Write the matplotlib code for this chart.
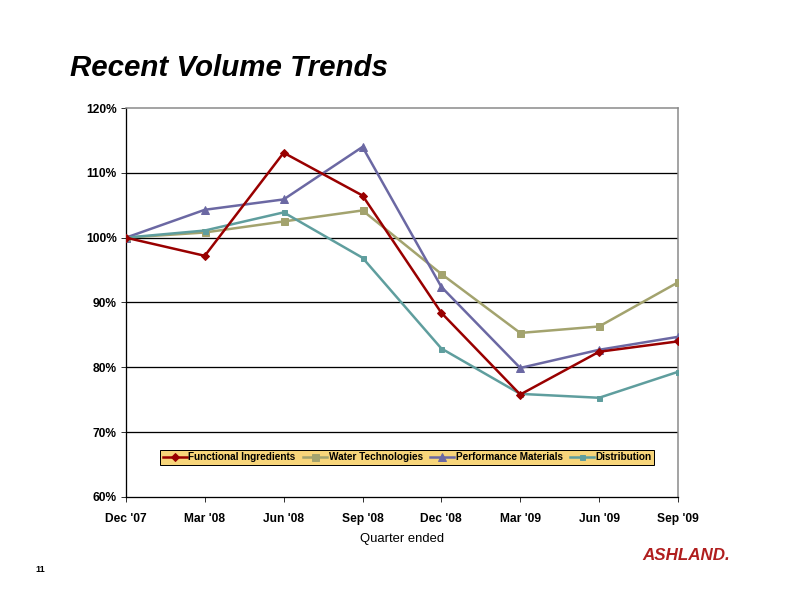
import matplotlib
matplotlib.use("Agg")
import matplotlib.pyplot as plt

plt.rcParams['font.family'] = ['Liberation Sans', 'DejaVu Sans']

quarters = ["Dec '07", "Mar '08", "Jun '08", "Sep '08", "Dec '08", "Mar '09", "Jun '09", "Sep '09"]
functional = [100.0, 97.2, 113.1, 106.5, 88.4, 75.8, 82.4, 84.0]
water = [100.0, 100.8, 102.5, 104.2, 94.4, 85.3, 86.3, 93.1]
performance = [100.0, 104.3, 105.9, 114.0, 92.4, 79.9, 82.7, 84.7]
distribution = [100.0, 101.1, 103.9, 96.9, 82.9, 75.9, 75.3, 79.3]

fig = plt.figure(figsize=(11, 8.5), dpi=72)
ax = fig.add_axes([0.159, 0.188, 0.697, 0.6355])

x = range(len(quarters))
ax.plot(x, functional, color='#990000', lw=2.5, marker='D', ms=6, label='Functional Ingredients', zorder=5)
ax.plot(x, water, color='#A3A36E', lw=2.5, marker='s', ms=7, label='Water Technologies', zorder=4)
ax.plot(x, performance, color='#6B68A3', lw=2.5, marker='^', ms=8, label='Performance Materials', zorder=4)
ax.plot(x, distribution, color='#5F9E9E', lw=2.5, marker='s', ms=5, label='Distribution', zorder=4)

ax.set_xlim(0, len(quarters) - 1)
ax.set_ylim(60, 120)
ax.set_yticks(range(60, 121, 10))
ax.set_yticklabels([f'{v}%' for v in range(60, 121, 10)], fontsize=12, fontweight='bold')
ax.set_xticks(list(x))
ax.set_xticklabels(quarters, fontsize=12, fontweight='bold')
ax.tick_params(axis='x', pad=11, length=5, direction='out')
ax.tick_params(axis='y', length=5, direction='out', pad=4)

for v in range(70, 120, 10):
    ax.axhline(v, color='black', lw=1.3, zorder=1)

ax.spines['left'].set_color('black')
ax.spines['bottom'].set_color('black')
ax.spines['left'].set_linewidth(1.3)
ax.spines['bottom'].set_linewidth(1.3)
ax.spines['top'].set_color('#888888')
ax.spines['right'].set_color('#888888')
ax.spines['top'].set_linewidth(1.5)
ax.spines['right'].set_linewidth(1.5)

leg = ax.legend(loc='upper center', bbox_to_anchor=(0.51, 0.121), ncol=4, frameon=True,
                fancybox=False, handlelength=2.4, handletextpad=0.15, columnspacing=0.75,
                borderpad=0.25, borderaxespad=0, prop={'size': 10, 'weight': 'bold'})
leg.get_frame().set_facecolor('#F7D57A')
leg.get_frame().set_edgecolor('black')
leg.get_frame().set_alpha(1)
leg.get_frame().set_linewidth(1.0)

ax.set_xlabel('Quarter ended', fontsize=13, labelpad=8)

fig.text(70 / 792, 1 - 68 / 612, 'Recent Volume Trends', fontsize=29.5, fontweight='bold',
         fontstyle='italic', va='center', ha='left')
fig.text(40 / 792, 1 - 569 / 612, '11', fontsize=9, fontweight='bold', va='center', ha='center')
fig.text(686 / 792, 1 - 555 / 612, 'ASHLAND.', fontsize=17, fontweight='bold', fontstyle='italic',
         color='#B01E1E', va='center', ha='center')

fig.savefig('out.png', dpi=72)
